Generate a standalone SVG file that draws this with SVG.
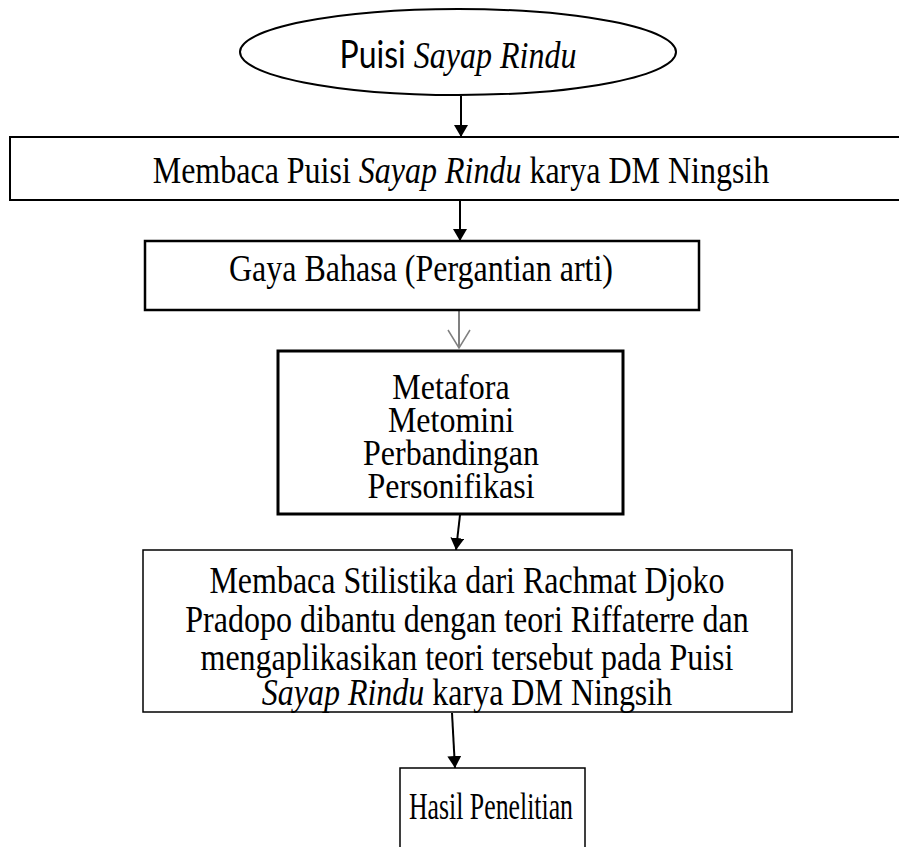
<svg xmlns="http://www.w3.org/2000/svg" width="899" height="847" viewBox="0 0 899 847">
<defs>
<style>
.t{font-family:"Liberation Serif","Times New Roman",serif;font-size:32px;fill:#000;text-anchor:middle}
.s{font-family:Lato,"Liberation Sans",sans-serif;font-style:normal}
.i{font-style:italic}
.box{fill:#fff;stroke:#000}
.c{stroke:#000;stroke-width:2;fill:none}
</style>
<marker id="ah" viewBox="0 0 12 14" refX="12" refY="7" markerWidth="12" markerHeight="14" markerUnits="userSpaceOnUse" orient="auto">
<path d="M0,0 L12,7 L0,14 Z" fill="#000"/>
</marker>
<marker id="oh" viewBox="0 0 20 24" refX="19" refY="12" markerWidth="20" markerHeight="24" markerUnits="userSpaceOnUse" orient="auto">
<path d="M1,1 L19,12 L1,23" fill="none" stroke="#808080" stroke-width="1.5"/>
</marker>
</defs>
<rect width="899" height="847" fill="#fff"/>
<g id="connectors">
<line class="c" x1="461" y1="96" x2="461" y2="137" marker-end="url(#ah)"/>
<line class="c" x1="460" y1="201" x2="460" y2="241" marker-end="url(#ah)"/>
<line x1="459" y1="311" x2="459" y2="348" stroke="#808080" stroke-width="2" marker-end="url(#oh)"/>
<line class="c" x1="460" y1="515" x2="456" y2="550" marker-end="url(#ah)"/>
<line class="c" x1="452" y1="713" x2="455" y2="768" marker-end="url(#ah)"/>
</g>
<g id="n1">
<ellipse class="box" cx="458" cy="52" rx="218" ry="43" stroke-width="2"/>
<g transform="scale(1,1.2)"><text class="t" x="458" y="56.67"><tspan class="s">Puisi </tspan><tspan class="i">Sayap Rindu</tspan></text></g>
</g>
<g id="n2">
<rect class="box" x="10" y="137" width="900" height="63" stroke-width="2"/>
<g transform="scale(1,1.2)"><text class="t" x="461" y="152.5">Membaca Puisi <tspan class="i">Sayap Rindu</tspan> karya DM Ningsih</text></g>
</g>
<g id="n3">
<rect class="box" x="145" y="241" width="554" height="69" stroke-width="2.5"/>
<g transform="scale(1,1.2)"><text class="t" x="421" y="234.17">Gaya Bahasa (Pergantian arti)</text></g>
</g>
<g id="n4">
<rect class="box" x="278" y="351" width="345" height="163" stroke-width="3"/>
<g transform="scale(1,1.12)"><text class="t"><tspan x="451" y="356.25">Metafora</tspan><tspan x="451" y="385.71">Metomini</tspan><tspan x="451" y="415.18">Perbandingan</tspan><tspan x="451" y="444.64">Personifikasi</tspan></text></g>
</g>
<g id="n5">
<rect class="box" x="143" y="550" width="649" height="162" stroke-width="1.5"/>
<g transform="scale(1,1.2)"><text class="t"><tspan x="467" y="494.17">Membaca Stilistika dari Rachmat Djoko</tspan><tspan x="467" y="526.67">Pradopo dibantu dengan teori Riffaterre dan</tspan><tspan x="467" y="558.33">mengaplikasikan teori tersebut pada Puisi</tspan><tspan x="467" y="587.5"><tspan class="i">Sayap Rindu</tspan> karya DM Ningsih</tspan></text></g>
</g>
<g id="n6">
<rect class="box" x="400" y="768" width="185" height="100" stroke-width="1.5"/>
<g transform="scale(1,1.2)"><text class="t" x="491" y="682.5" textLength="164" lengthAdjust="spacingAndGlyphs">Hasil Penelitian</text></g>
</g>
</svg>
